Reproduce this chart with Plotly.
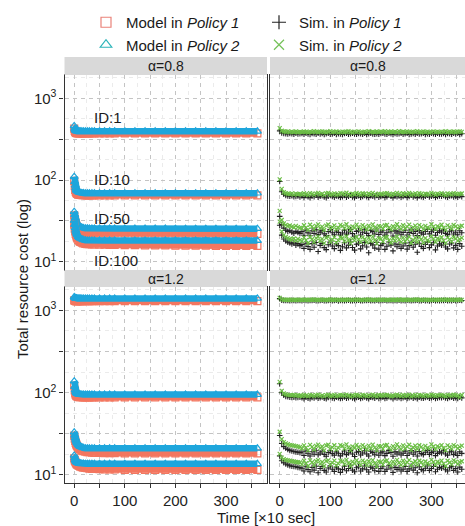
import math
import plotly.graph_objects as go

# ---------------------------------------------------------------------------
# Data
# ---------------------------------------------------------------------------
ids = ["ID:1", "ID:10", "ID:50", "ID:100"]
alphas = ["α=0.8", "α=1.2"]

# time in units of 10 s
t_model = [0, 1, 2, 3, 4, 5, 6, 8, 10, 12,
           15, 18, 22, 26, 30, 35, 40, 50, 60, 70,
           80, 100, 120, 140, 160, 180, 200, 220, 240, 260,
           280, 300, 320, 340, 362]
t_sim = list(range(0, 361, 4))

# ---- model, alpha = 0.8 ----
m08_id1_p1 = [425, 400, 388, 381, 377, 375, 374, 373, 373, 372,
              372, 372, 372, 372, 372, 372, 372, 372, 372, 372,
              372, 372, 372, 372, 372, 372, 372, 372, 372, 372,
              372, 372, 372, 372, 372]
m08_id1_p2 = [460, 425, 410, 403, 399, 397, 396, 395, 395, 395,
              395, 395, 395, 395, 395, 395, 395, 395, 395, 395,
              395, 395, 395, 395, 395, 395, 395, 395, 395, 395,
              395, 395, 395, 395, 395]
m08_id10_p1 = [98, 84, 76, 72, 70, 68.5, 67.6, 66.6, 66.0, 65.7,
               65.4, 65.2, 65.1, 65.0, 65.0, 65.0, 65.0, 65.0, 65.0, 65.0,
               65.0, 65.0, 65.0, 65.0, 65.0, 65.0, 65.0, 65.0, 65.0, 65.0,
               65.0, 65.0, 65.0, 65.0, 65.0]
m08_id10_p2 = [110, 95, 86, 80, 76.5, 74.3, 73.0, 71.5, 70.6, 70.1,
               69.6, 69.3, 69.1, 69.0, 69.0, 69.0, 69.0, 69.0, 69.0, 69.0,
               69.0, 69.0, 69.0, 69.0, 69.0, 69.0, 69.0, 69.0, 69.0, 69.0,
               69.0, 69.0, 69.0, 69.0, 69.0]
m08_id50_p1 = [37, 33.5, 31, 29.3, 28, 27, 26.2, 25.1, 24.4, 23.9,
               23.4, 23.1, 22.8, 22.6, 22.5, 22.4, 22.3, 22.2, 22.2, 22.2,
               22.2, 22.2, 22.1, 22.1, 22.1, 22.1, 22.1, 22.0, 22.0, 22.0,
               22.0, 22.0, 22.0, 22.0, 22.0]
m08_id50_p2 = [41, 37.5, 34.5, 32.5, 31, 29.8, 28.9, 27.8, 27.1, 26.7,
               26.3, 26.0, 25.8, 25.7, 25.6, 25.6, 25.5, 25.5, 25.5, 25.5,
               25.5, 25.5, 25.5, 25.5, 25.5, 25.5, 25.4, 25.4, 25.4, 25.4,
               25.4, 25.4, 25.4, 25.4, 25.4]
m08_id100_p1 = [28.5, 25.5, 23.5, 22.0, 21.0, 20.1, 19.4, 18.5, 17.9, 17.5,
                17.1, 16.8, 16.6, 16.5, 16.4, 16.3, 16.3, 16.2, 16.2, 16.1,
                16.1, 16.0, 16.0, 15.9, 15.9, 15.9, 15.8, 15.8, 15.8, 15.8,
                15.7, 15.7, 15.7, 15.7, 15.7]
m08_id100_p2 = [32, 28.5, 26, 24.3, 23.1, 22.1, 21.3, 20.3, 19.7, 19.3,
                18.9, 18.6, 18.4, 18.3, 18.2, 18.2, 18.2, 18.2, 18.2, 18.2,
                18.2, 18.2, 18.2, 18.2, 18.2, 18.2, 18.2, 18.2, 18.2, 18.2,
                18.2, 18.2, 18.2, 18.2, 18.2]

# ---- model, alpha = 1.2 ----
m12_id1_p1 = [1330, 1310, 1303, 1300, 1300, 1300, 1300, 1300, 1300, 1300,
              1300, 1300, 1300, 1300, 1300, 1300, 1300, 1300, 1300, 1300,
              1300, 1300, 1300, 1300, 1300, 1300, 1300, 1300, 1300, 1300,
              1300, 1300, 1300, 1300, 1300]
m12_id1_p2 = [1460, 1430, 1415, 1408, 1404, 1402, 1401, 1400, 1400, 1400,
              1400, 1400, 1400, 1400, 1400, 1400, 1400, 1400, 1400, 1400,
              1400, 1400, 1400, 1400, 1400, 1400, 1400, 1400, 1400, 1400,
              1400, 1400, 1400, 1400, 1400]
m12_id10_p1 = [122, 106, 98, 94, 92, 90.6, 89.7, 88.8, 88.3, 88.0,
               87.8, 87.7, 87.7, 87.7, 87.7, 87.7, 87.7, 87.7, 87.7, 87.7,
               87.7, 87.7, 87.7, 87.7, 87.7, 87.7, 87.7, 87.7, 87.7, 87.7,
               87.7, 87.7, 87.7, 87.7, 87.7]
m12_id10_p2 = [138, 118, 108, 103, 100, 98.2, 97.0, 96.0, 95.4, 95.1,
               94.9, 94.8, 94.7, 94.6, 94.6, 94.6, 94.6, 94.6, 94.6, 94.6,
               94.6, 94.6, 94.6, 94.6, 94.6, 94.6, 94.6, 94.6, 94.6, 94.6,
               94.6, 94.6, 94.6, 94.6, 94.6]
m12_id50_p1 = [30, 27.5, 25.8, 24.5, 23.5, 22.7, 22.1, 21.2, 20.6, 20.2,
               19.7, 19.4, 19.1, 18.9, 18.8, 18.6, 18.5, 18.4, 18.3, 18.3,
               18.3, 18.2, 18.2, 18.2, 18.2, 18.2, 18.2, 18.2, 18.2, 18.2,
               18.2, 18.2, 18.2, 18.2, 18.2]
m12_id50_p2 = [33, 30.2, 28.2, 26.8, 25.7, 24.8, 24.1, 23.1, 22.5, 22.0,
               21.6, 21.3, 21.1, 21.0, 21.0, 21.0, 21.0, 21.0, 21.0, 21.0,
               21.0, 21.0, 21.0, 21.0, 21.0, 21.0, 21.0, 21.0, 21.0, 21.0,
               21.0, 21.0, 21.0, 21.0, 21.0]
m12_id100_p1 = [15.8, 15.0, 14.5, 14.1, 13.8, 13.5, 13.3, 13.0, 12.8, 12.6,
                12.4, 12.2, 12.1, 12.0, 11.9, 11.8, 11.8, 11.7, 11.6, 11.6,
                11.6, 11.5, 11.5, 11.5, 11.5, 11.5, 11.5, 11.5, 11.5, 11.5,
                11.5, 11.5, 11.5, 11.5, 11.5]
m12_id100_p2 = [17.2, 16.0, 15.2, 14.7, 14.4, 14.2, 14.0, 13.9, 13.8, 13.8,
                13.7, 13.7, 13.6, 13.6, 13.6, 13.6, 13.6, 13.6, 13.6, 13.6,
                13.6, 13.6, 13.6, 13.6, 13.6, 13.6, 13.6, 13.6, 13.6, 13.6,
                13.6, 13.6, 13.6, 13.6, 13.6]

# ---- simulation, alpha = 0.8 ----
s08_id1_p1 = [400, 378, 372, 370, 366, 371, 369, 364, 373, 367, 370,
              371, 364, 374, 366, 361, 371, 369, 363, 373, 366,
              372, 362, 370, 375, 365, 367, 373, 362, 370, 366,
              361, 371, 374, 364, 369, 374, 366, 363, 372, 368,
              365, 373, 362, 370, 375, 367, 364, 370, 363, 371,
              374, 366, 363, 374, 369, 361, 372, 366, 370, 373,
              365, 370, 375, 362, 367, 371, 364, 374, 366, 369,
              373, 362, 370, 365, 374, 370, 363, 375, 366, 367,
              372, 362, 371, 369, 364, 374, 366, 373, 361, 370]
s08_id1_p2 = [432, 401, 393, 390, 394, 386, 391, 387, 393, 384, 389,
              385, 393, 388, 382, 392, 386, 395, 389, 384, 391,
              394, 387, 383, 390, 396, 385, 389, 393, 381, 388,
              392, 384, 390, 395, 387, 382, 391, 389, 394, 386,
              383, 392, 388, 396, 385, 390, 384, 393, 387, 391,
              389, 395, 382, 388, 393, 386, 391, 384, 396, 387,
              390, 385, 394, 388, 383, 392, 389, 395, 386, 384,
              393, 387, 391, 382, 389, 394, 386, 390, 385, 392,
              388, 395, 384, 391, 387, 393, 383, 390, 394, 389]
s08_id10_p1 = [96, 72, 67, 65, 64, 63.5, 64.2, 62.4, 63.1, 64, 62.2,
               63.8, 61.2, 64.5, 62.7, 60.9, 63.9, 62.5, 65.1, 61.8, 63.4,
               64.6, 62.1, 60.8, 63.5, 65.2, 62.9, 61.6, 64.1, 63.0, 61.4,
               62.6, 64.8, 61.9, 63.3, 65.4, 62.2, 60.7, 63.7, 64.3, 61.5,
               63.1, 65.0, 62.4, 61.1, 64.4, 63.6, 62.0, 64.9, 61.7, 63.2,
               64.2, 61.3, 62.8, 65.3, 63.5, 60.9, 64.0, 62.6, 63.9, 61.6,
               62.9, 64.7, 61.4, 63.0, 65.1, 62.3, 63.8, 61.0, 64.3, 62.7,
               61.8, 63.6, 65.2, 62.1, 63.4, 64.6, 61.2, 62.9, 64.1, 63.3,
               65.0, 62.4, 61.6, 63.8, 64.5, 62.0, 63.1, 61.5, 64.2, 62.8]
s08_id10_p2 = [102, 78, 71, 69, 68, 67.2, 68.6, 66.5, 68.1, 67, 67.6,
               66.4, 68.9, 67.1, 65.6, 69.3, 67.8, 66.0, 68.4, 69.8, 66.7,
               67.9, 65.3, 68.6, 69.5, 66.2, 67.4, 68.8, 65.8, 67.0, 69.1,
               68.2, 66.5, 69.9, 67.3, 65.5, 68.0, 66.9, 69.4, 67.6, 66.1,
               69.0, 67.7, 65.9, 68.5, 66.6, 69.6, 67.2, 65.4, 68.3, 67.9,
               66.3, 68.7, 69.2, 67.0, 65.7, 68.1, 66.8, 69.7, 67.5, 66.0,
               68.9, 66.4, 67.8, 69.4, 65.6, 67.3, 68.6, 66.2, 69.0, 67.7,
               65.8, 68.4, 67.1, 66.5, 69.8, 67.9, 66.1, 68.2, 67.4, 69.3,
               67.0, 65.5, 68.8, 67.6, 66.3, 69.1, 68.0, 66.7, 67.8, 68.5]
s08_id50_p1 = [36, 28.5, 25.8, 24.4, 23.6, 24.0, 23.1, 22.4, 23.6, 22.9, 22.2,
               23.4, 21.1, 24.3, 22.6, 20.8, 23.9, 22.2, 24.6, 21.5, 23.1,
               24.1, 22.0, 20.9, 23.5, 24.8, 22.7, 21.4, 23.8, 22.9, 21.2,
               22.5, 24.4, 21.8, 23.2, 24.9, 22.1, 20.6, 23.6, 24.0, 21.3,
               23.0, 24.7, 22.3, 21.0, 24.2, 23.4, 21.9, 24.5, 21.6, 23.1,
               24.0, 21.2, 22.7, 24.9, 23.3, 20.7, 23.9, 22.5, 23.7, 21.4,
               22.8, 24.3, 21.3, 22.9, 24.6, 22.2, 23.6, 20.9, 24.1, 22.6,
               21.7, 23.5, 24.8, 22.0, 23.3, 24.4, 21.1, 22.8, 23.9, 23.2,
               24.6, 22.3, 21.5, 23.7, 24.2, 21.9, 23.0, 21.4, 24.0, 22.7]
s08_id50_p2 = [42, 32.5, 29.4, 28.2, 27.3, 27.8, 26.9, 26.3, 27.5, 26.6, 26.0,
               25.6, 28.0, 26.2, 24.7, 28.4, 26.9, 25.1, 27.5, 28.7, 25.8,
               27.0, 24.5, 27.7, 28.6, 25.3, 26.5, 27.9, 24.9, 26.1, 28.3,
               27.3, 25.6, 28.8, 26.4, 24.6, 27.1, 26.0, 28.5, 26.7, 25.2,
               28.1, 26.8, 25.0, 27.6, 25.7, 28.7, 26.3, 24.5, 27.4, 27.0,
               25.4, 27.8, 28.3, 26.1, 24.8, 27.2, 25.9, 28.8, 26.6, 25.1,
               28.0, 25.5, 26.9, 28.5, 24.7, 26.4, 27.7, 25.3, 28.1, 26.8,
               24.9, 27.5, 26.2, 25.6, 28.8, 27.0, 25.2, 27.3, 26.5, 28.4,
               26.1, 24.6, 27.9, 26.7, 25.4, 28.2, 27.1, 25.8, 26.9, 27.6]
s08_id100_p1 = [28, 21.2, 19.0, 18.0, 17.4, 17.0, 16.6, 17.1, 16.0, 16.7, 15.8,
                16.3, 14.6, 16.9, 15.4, 14.2, 16.7, 15.1, 17.2, 13.4, 15.9,
                16.8, 14.9, 14.1, 16.2, 17.4, 15.6, 14.5, 16.6, 15.8, 13.8,
                15.3, 17.1, 14.8, 16.0, 17.5, 15.0, 13.9, 16.4, 16.9, 14.4,
                15.7, 17.3, 15.2, 12.9, 16.8, 16.1, 14.7, 17.2, 14.3, 15.9,
                16.7, 14.2, 15.5, 17.5, 16.0, 13.6, 16.5, 15.3, 16.4, 14.6,
                15.6, 17.0, 14.3, 15.8, 17.3, 15.1, 16.4, 13.1, 16.9, 15.4,
                14.6, 16.3, 17.4, 14.9, 16.1, 17.1, 14.0, 15.6, 16.6, 16.0,
                17.2, 15.2, 14.4, 16.5, 17.0, 14.8, 15.9, 14.2, 16.7, 15.5]
s08_id100_p2 = [31, 23.6, 21.2, 20.1, 19.5, 19.0, 18.6, 19.3, 18.2, 19.0, 18.4,
                17.9, 19.8, 18.4, 17.0, 20.1, 18.9, 17.4, 19.5, 20.3, 18.1,
                19.1, 16.9, 19.6, 20.2, 17.6, 18.6, 19.9, 17.2, 18.3, 20.0,
                19.4, 17.8, 20.4, 18.5, 16.9, 19.2, 18.2, 20.1, 18.8, 17.5,
                19.9, 18.9, 17.3, 19.6, 17.9, 20.3, 18.4, 16.8, 19.4, 19.1,
                17.7, 19.7, 20.1, 18.3, 17.1, 19.3, 18.1, 20.4, 18.7, 17.4,
                19.8, 17.8, 19.0, 20.2, 17.0, 18.5, 19.6, 17.6, 19.9, 18.9,
                17.2, 19.5, 18.3, 17.8, 20.4, 19.1, 17.5, 19.3, 18.6, 20.0,
                18.2, 16.9, 19.8, 18.8, 17.7, 20.0, 19.2, 18.0, 18.9, 19.6]

# ---- simulation, alpha = 1.2 ----
s12_id1_p1 = [1390, 1335, 1325, 1318, 1322, 1315, 1324, 1319, 1312, 1326, 1320,
              1314, 1327, 1321, 1309, 1325, 1318, 1331, 1316, 1312, 1323,
              1329, 1317, 1310, 1322, 1332, 1315, 1320, 1327, 1308, 1319,
              1324, 1313, 1321, 1330, 1316, 1311, 1326, 1320, 1328, 1314,
              1310, 1325, 1318, 1331, 1315, 1322, 1312, 1327, 1317, 1323,
              1320, 1330, 1309, 1319, 1326, 1314, 1324, 1311, 1332, 1316,
              1322, 1313, 1328, 1318, 1310, 1325, 1321, 1331, 1315, 1312,
              1327, 1316, 1323, 1308, 1320, 1329, 1314, 1322, 1317, 1326,
              1318, 1332, 1311, 1324, 1316, 1328, 1309, 1321, 1330, 1319]
s12_id1_p2 = [1420, 1362, 1350, 1344, 1349, 1340, 1351, 1343, 1338, 1352, 1346,
              1339, 1354, 1347, 1335, 1350, 1342, 1357, 1341, 1337, 1349,
              1355, 1343, 1336, 1348, 1358, 1340, 1346, 1353, 1334, 1345,
              1350, 1338, 1347, 1356, 1342, 1336, 1352, 1345, 1354, 1340,
              1335, 1351, 1344, 1357, 1341, 1348, 1337, 1353, 1343, 1349,
              1346, 1356, 1334, 1345, 1352, 1339, 1350, 1336, 1358, 1342,
              1348, 1338, 1354, 1344, 1335, 1351, 1347, 1357, 1341, 1337,
              1353, 1342, 1349, 1334, 1346, 1355, 1339, 1348, 1343, 1352,
              1344, 1358, 1336, 1350, 1342, 1354, 1335, 1347, 1356, 1345]
s12_id10_p1 = [128, 100, 93, 90, 89, 88, 87.5, 88.2, 86.4, 87.1, 88.0,
               86.9, 84.5, 88.1, 85.7, 84.1, 87.6, 86.0, 88.8, 85.2, 86.7,
               88.4, 85.5, 84.2, 87.0, 88.9, 86.3, 84.9, 87.8, 86.5, 84.6,
               86.1, 88.5, 85.3, 86.8, 89.0, 85.9, 84.0, 87.3, 87.9, 85.0,
               86.6, 88.7, 85.8, 84.4, 88.0, 87.2, 85.4, 88.6, 84.8, 86.9,
               87.7, 84.7, 86.2, 88.9, 87.0, 84.3, 87.5, 86.0, 87.4, 85.1,
               86.4, 88.2, 84.8, 86.6, 88.8, 85.6, 87.1, 84.2, 88.0, 86.1,
               85.2, 87.0, 88.6, 85.5, 86.9, 88.1, 84.6, 86.3, 87.6, 86.8,
               88.5, 85.9, 85.0, 87.3, 88.0, 85.4, 86.5, 84.9, 87.8, 86.2]
s12_id10_p2 = [135, 105, 97.5, 95, 94, 93.2, 92.6, 93.5, 91.8, 92.9, 91.6,
               91.0, 93.6, 91.9, 90.2, 94.0, 92.5, 90.6, 93.1, 94.3, 91.4,
               92.7, 89.9, 93.3, 94.2, 90.9, 92.0, 93.8, 90.4, 91.7, 93.9,
               93.0, 91.2, 94.5, 92.3, 90.1, 92.8, 91.5, 94.1, 92.4, 90.7,
               93.7, 92.6, 90.5, 93.2, 91.1, 94.4, 92.1, 89.8, 93.4, 92.9,
               91.3, 93.5, 94.0, 91.8, 90.3, 92.7, 91.6, 94.6, 92.2, 90.8,
               93.9, 91.0, 92.5, 94.2, 90.0, 91.9, 93.6, 90.6, 93.8, 92.4,
               90.4, 93.1, 92.0, 91.4, 94.5, 92.8, 90.9, 93.3, 92.3, 94.0,
               91.7, 90.2, 93.7, 92.6, 91.2, 94.1, 93.0, 91.5, 88.4, 93.4]
s12_id50_p1 = [30, 24, 22, 21, 20.3, 19.8, 19.5, 19.2, 19.0, 18.8, 18.6,
               18.9, 17.2, 19.4, 18.0, 16.9, 19.1, 17.8, 19.6, 17.5, 18.4,
               19.3, 17.7, 16.8, 18.7, 19.7, 18.1, 17.3, 19.0, 18.3, 17.0,
               18.0, 19.5, 17.6, 18.5, 19.8, 17.9, 16.7, 18.8, 19.2, 17.4,
               18.4, 19.6, 17.9, 16.9, 19.3, 18.6, 17.5, 19.5, 17.3, 18.5,
               19.1, 17.1, 18.2, 19.8, 18.7, 16.8, 19.0, 17.9, 18.9, 17.4,
               18.3, 19.4, 17.2, 18.4, 19.7, 17.8, 18.9, 16.9, 19.2, 18.1,
               17.6, 18.8, 19.7, 17.7, 18.6, 19.4, 17.1, 18.2, 19.0, 18.5,
               19.6, 17.9, 17.3, 18.9, 19.3, 17.6, 18.4, 17.2, 19.1, 18.2]
s12_id50_p2 = [33.4, 27.2, 25.0, 24.1, 23.5, 23.0, 22.8, 22.6, 22.3, 22.0, 21.8,
               20.9, 22.8, 21.4, 19.9, 23.1, 21.9, 20.3, 22.5, 23.3, 21.1,
               22.1, 19.8, 22.7, 23.2, 20.6, 21.6, 22.9, 20.2, 21.3, 23.0,
               22.4, 20.8, 23.4, 21.5, 19.9, 22.2, 21.2, 23.1, 21.8, 20.5,
               23.0, 21.9, 20.3, 22.6, 20.9, 23.3, 21.4, 19.8, 22.4, 22.1,
               20.7, 22.7, 23.1, 21.3, 20.1, 22.3, 21.1, 23.4, 21.7, 20.4,
               22.8, 20.8, 22.0, 23.2, 20.0, 21.5, 22.6, 20.6, 22.9, 21.9,
               20.2, 22.5, 21.3, 20.8, 23.4, 22.1, 20.5, 22.3, 21.6, 23.0,
               21.2, 19.9, 22.8, 21.8, 20.7, 23.0, 22.2, 21.0, 21.9, 22.6]
s12_id100_p1 = [17.0, 14.8, 14.0, 13.5, 13.2, 12.9, 12.7, 12.6, 12.5, 12.3, 12.2,
                12.0, 11.1, 12.5, 11.6, 10.9, 12.3, 11.4, 12.7, 10.6, 11.9,
                12.6, 11.3, 10.8, 12.1, 12.8, 11.7, 11.0, 12.4, 11.8, 10.7,
                11.6, 12.7, 11.2, 11.9, 12.9, 11.4, 10.9, 12.2, 12.5, 11.1,
                11.8, 12.8, 11.5, 10.8, 12.4, 12.0, 11.2, 12.7, 11.0, 11.9,
                12.5, 11.0, 11.7, 12.9, 12.1, 10.7, 12.3, 11.6, 12.2, 11.1,
                11.7, 12.6, 11.0, 11.8, 12.8, 11.4, 12.2, 10.6, 12.5, 11.6,
                11.2, 12.0, 12.8, 11.3, 11.9, 12.6, 10.9, 11.7, 12.3, 12.0,
                12.7, 11.5, 11.1, 12.2, 12.6, 11.3, 11.9, 10.8, 12.4, 11.7]
s12_id100_p2 = [18.0, 16.2, 15.5, 15.2, 15.0, 14.8, 14.6, 14.5, 14.3, 14.2, 14.1,
                13.4, 14.8, 13.8, 12.8, 15.0, 14.2, 13.1, 14.6, 15.1, 13.6,
                14.3, 12.8, 14.7, 15.0, 13.2, 14.0, 14.9, 13.0, 13.7, 14.9,
                14.5, 13.4, 15.2, 13.9, 12.8, 14.4, 13.7, 15.0, 14.1, 13.2,
                14.9, 14.2, 13.1, 14.6, 13.5, 15.1, 13.8, 12.7, 14.5, 14.3,
                13.3, 14.7, 15.0, 13.8, 12.9, 14.4, 13.6, 15.2, 14.0, 13.1,
                14.8, 13.4, 14.2, 15.1, 12.9, 13.9, 14.6, 13.3, 14.8, 14.2,
                13.0, 14.5, 13.8, 13.4, 15.2, 14.3, 13.2, 14.4, 13.9, 14.9,
                13.7, 12.8, 14.8, 14.1, 13.4, 15.0, 14.4, 13.5, 14.2, 14.6]

# series per panel: row (alpha) -> (policy 1, policy 2) for each ID
model_rows = [
    [(m08_id1_p1, m08_id1_p2), (m08_id10_p1, m08_id10_p2),
     (m08_id50_p1, m08_id50_p2), (m08_id100_p1, m08_id100_p2)],
    [(m12_id1_p1, m12_id1_p2), (m12_id10_p1, m12_id10_p2),
     (m12_id50_p1, m12_id50_p2), (m12_id100_p1, m12_id100_p2)],
]
sim_rows = [
    [(s08_id1_p1, s08_id1_p2), (s08_id10_p1, s08_id10_p2),
     (s08_id50_p1, s08_id50_p2), (s08_id100_p1, s08_id100_p2)],
    [(s12_id1_p1, s12_id1_p2), (s12_id10_p1, s12_id10_p2),
     (s12_id50_p1, s12_id50_p2), (s12_id100_p1, s12_id100_p2)],
]

# ---------------------------------------------------------------------------
# Styling
# ---------------------------------------------------------------------------
W, H = 465, 526
FONT = "Liberation Sans, Arial, Helvetica, sans-serif"
RED, BLUE = "#F3765F", "#1EA6DC"
BLACK, GREEN = "#222222", "#6BBE45"
RED_KEY, BLUE_KEY, GREEN_KEY = "#EA8279", "#2BB4B9", "#74C258"


def px_x(p):
    return p / W


def px_y(p):
    return (H - p) / H


col_dom = [[px_x(64.5), px_x(267)], [px_x(270), 1.0]]
row_dom = [[px_y(270), px_y(75)], [px_y(483), px_y(287)]]
strip_top = [57, 270]
strip_bot = [75, 287]
x_ranges = [[-19.2, 381], [-19.2, 366.4]]
y_range = [0.9, 3.285]

fig = go.Figure()

axis_names = {}
panel = 0
for r in range(2):
    for c in range(2):
        panel += 1
        sfx = "" if panel == 1 else str(panel)
        axis_names[(r, c)] = ("x" + sfx, "y" + sfx)

# model panels (left column): policy 1 underneath, policy 2 on top
for r in range(2):
    xa, ya = axis_names[(r, 0)]
    for p1, p2 in model_rows[r]:
        for vals, col, sym in ((p1, RED, "square-open"), (p2, BLUE, "triangle-up-open")):
            fig.add_trace(go.Scatter(
                x=t_model, y=vals, xaxis=xa, yaxis=ya, mode="lines+markers",
                line=dict(color=col, width=6.5),
                marker=dict(symbol=sym, size=7, color=col, line=dict(width=1.2, color=col)),
                showlegend=False, hoverinfo="skip"))

# simulation panels (right column)
for r in range(2):
    xa, ya = axis_names[(r, 1)]
    for vals_p1, _ in sim_rows[r]:
        fig.add_trace(go.Scatter(
            x=t_sim, y=vals_p1, xaxis=xa, yaxis=ya, mode="markers",
            marker=dict(symbol="cross-thin", size=4, color=BLACK,
                        line=dict(width=1.1, color=BLACK)),
            showlegend=False, hoverinfo="skip"))
    for _, vals_p2 in sim_rows[r]:
        fig.add_trace(go.Scatter(
            x=t_sim, y=vals_p2, xaxis=xa, yaxis=ya, mode="markers",
            marker=dict(symbol="x-thin", size=4, color=GREEN,
                        line=dict(width=1.2, color=GREEN)),
            showlegend=False, hoverinfo="skip"))

# legend keys
legend_keys = [
    ("Model in <i>Policy 1</i>", "square-open", RED_KEY, "legend"),
    ("Model in <i>Policy 2</i>", "triangle-up-open", BLUE_KEY, "legend"),
    ("Sim. in <i>Policy 1</i>", "cross-thin", BLACK, "legend2"),
    ("Sim. in <i>Policy 2</i>", "x-thin", GREEN_KEY, "legend2"),
]
for name, sym, col, lg in legend_keys:
    fig.add_trace(go.Scatter(
        x=[None], y=[None], mode="markers", name=name, legend=lg,
        marker=dict(symbol=sym, size=10, color=col, line=dict(width=1.2, color=col))))

# axes
x_major = [0, 50, 100, 150, 200, 250, 300, 350]
x_major_text = ["0", "", "100", "", "200", "", "300", ""]
x_minor = [25, 75, 125, 175, 225, 275, 325, 375]
y_major = [10, 10 ** 1.5, 100, 10 ** 2.5, 1000]
y_major_text = ["10<sup>1</sup>", "", "10<sup>2</sup>", "", "10<sup>3</sup>"]
y_minor = [10 ** 1.25, 10 ** 1.75, 10 ** 2.25, 10 ** 2.75, 10 ** 3.25]

GRID = "#C4C4C4"
MINOR = "#EBEBEB"
LINE = "#333333"

layout_axes = {}
for (r, c), (xa, ya) in axis_names.items():
    xkey = "xaxis" + xa[1:]
    ykey = "yaxis" + ya[1:]
    bottom = r == 1
    left = c == 0
    layout_axes[xkey] = dict(
        domain=col_dom[c], anchor=ya, range=x_ranges[c],
        tickmode="array", tickvals=x_major, ticktext=x_major_text,
        showticklabels=bottom, ticks="outside" if bottom else "",
        ticklen=4, tickwidth=1, tickcolor=LINE,
        tickfont=dict(size=15, color="#222222", family=FONT),
        showgrid=True, gridcolor=GRID, gridwidth=0.8, griddash="4px,4px",
        minor=dict(tickmode="array", tickvals=x_minor, showgrid=True,
                   gridcolor=MINOR, gridwidth=0.7),
        zeroline=False, showline=True, mirror=True, linecolor=LINE, linewidth=1.1,
    )
    layout_axes[ykey] = dict(
        domain=row_dom[r], anchor=xa, type="log", range=y_range,
        tickmode="array", tickvals=y_major, ticktext=y_major_text,
        showticklabels=left, ticks="outside" if left else "",
        ticklen=4, tickwidth=1, tickcolor=LINE,
        tickfont=dict(size=15, color="#222222", family=FONT),
        showgrid=True, gridcolor=GRID, gridwidth=0.8, griddash="4px,4px",
        minor=dict(tickmode="array", tickvals=y_minor, showgrid=True,
                   gridcolor=MINOR, gridwidth=0.7),
        zeroline=False, showline=True, mirror=True, linecolor=LINE, linewidth=1.1,
    )

shapes = []
annotations = []
for r in range(2):
    for c in range(2):
        shapes.append(dict(
            type="rect", xref="paper", yref="paper",
            x0=col_dom[c][0], x1=col_dom[c][1],
            y0=px_y(strip_bot[r]), y1=px_y(strip_top[r]),
            fillcolor="#D9D9D9", line=dict(width=0), layer="above"))
        annotations.append(dict(
            xref="paper", yref="paper",
            x=(col_dom[c][0] + col_dom[c][1]) / 2,
            y=(px_y(strip_bot[r]) + px_y(strip_top[r])) / 2,
            text=alphas[r], showarrow=False, xanchor="center", yanchor="middle",
            font=dict(size=14, color="#1A1A1A", family=FONT)))

# series identifiers in the α=0.8 model panel
id_label_y = [590, 102, 34, 10.5]
for text, yv in zip(ids, id_label_y):
    annotations.append(dict(
        xref="x", yref="y", x=35.6, y=math.log10(yv), text=text,
        showarrow=False, xanchor="left", yanchor="middle",
        font=dict(size=15, color="#1A1A1A", family=FONT)))

annotations.append(dict(
    xref="paper", yref="paper", x=px_x(22), y=px_y(279),
    text="Total resource cost (log)", textangle=-90, showarrow=False,
    xanchor="center", yanchor="middle",
    font=dict(size=15, color="#1A1A1A", family=FONT)))
annotations.append(dict(
    xref="paper", yref="paper", x=px_x(266), y=px_y(517),
    text="Time [×10 sec]", showarrow=False,
    xanchor="center", yanchor="middle",
    font=dict(size=15, color="#1A1A1A", family=FONT)))

legend_common = dict(
    orientation="v", yanchor="top", xanchor="left", y=px_y(6),
    bgcolor="rgba(0,0,0,0)", borderwidth=0,
    font=dict(size=15, color="#1A1A1A", family=FONT),
    itemclick=False, itemdoubleclick=False,
)

fig.update_layout(
    width=W, height=H,
    margin=dict(l=0, r=0, t=0, b=0),
    paper_bgcolor="white", plot_bgcolor="white",
    font=dict(family=FONT, color="#1A1A1A"),
    showlegend=True,
    legend=dict(x=px_x(86), **legend_common),
    legend2=dict(x=px_x(259), **legend_common),
    shapes=shapes, annotations=annotations,
    **layout_axes,
)

fig.write_html("out.html")
